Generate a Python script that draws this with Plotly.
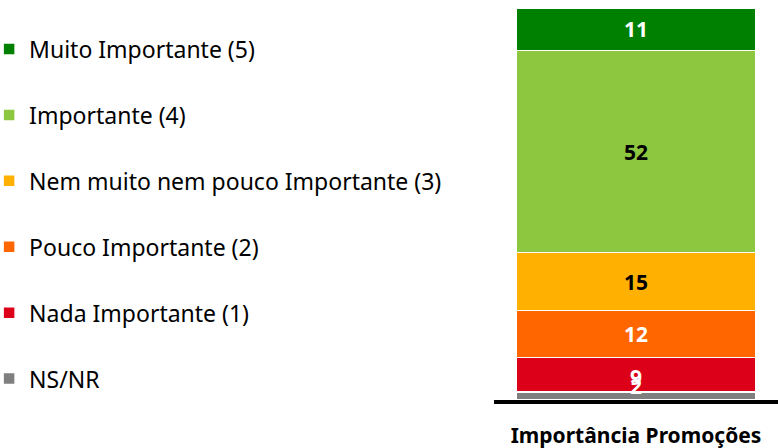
import plotly.graph_objects as go

categories = ["Importância Promoções"]
series_names = ["NS/NR", "Nada Importante (1)", "Pouco Importante (2)",
                "Nem muito nem pouco Importante (3)", "Importante (4)", "Muito Importante (5)"]
values = [2, 9, 12, 15, 52, 11]
colors = ["#7F7F7F", "#DC0018", "#FF6600", "#FFB000", "#8DC63F", "#008000"]
label_colors = ["white", "white", "white", "black", "black", "white"]
label_shift = [10, -2, 0, 0, 0, 0]

FONT = "Noto Sans"
fig = go.Figure()
n = len(values)
for i, (name, v, c) in enumerate(zip(series_names, values, colors)):
    fig.add_trace(go.Bar(
        x=categories, y=[v], name=name,
        marker=dict(color=c, line=dict(color="white", width=1.5)),
        legendgroup=name, legendrank=n - i, width=0.84,
    ))

cum = 0
for v, lc, sh in zip(values, label_colors, label_shift):
    fig.add_annotation(x=categories[0], y=cum + v / 2, text=f"<b>{v}</b>",
                       showarrow=False, yshift=sh,
                       font=dict(family=FONT, size=21, color=lc))
    cum += v

fig.update_layout(
    barmode="stack",
    width=778, height=448,
    margin=dict(l=0, r=0, t=8, b=48, autoexpand=False),
    paper_bgcolor="white", plot_bgcolor="white",
    font=dict(family=FONT, size=21, color="black"),
    showlegend=True,
    legend=dict(x=-0.014, xanchor="left", y=0.95, yanchor="top",
                traceorder="grouped", tracegroupgap=33,
                font=dict(family=FONT, size=23, color="black"),
                bgcolor="rgba(0,0,0,0)"),
    xaxis=dict(domain=[0.635, 1.0], showline=True, linecolor="black", linewidth=4,
               ticks="", tickfont=dict(family=FONT, size=21, color="black", weight="bold"),
               ticklabelstandoff=14, showgrid=False),
    yaxis=dict(range=[0, sum(values)], visible=False, showgrid=False),
)
fig.write_html("out.html")
